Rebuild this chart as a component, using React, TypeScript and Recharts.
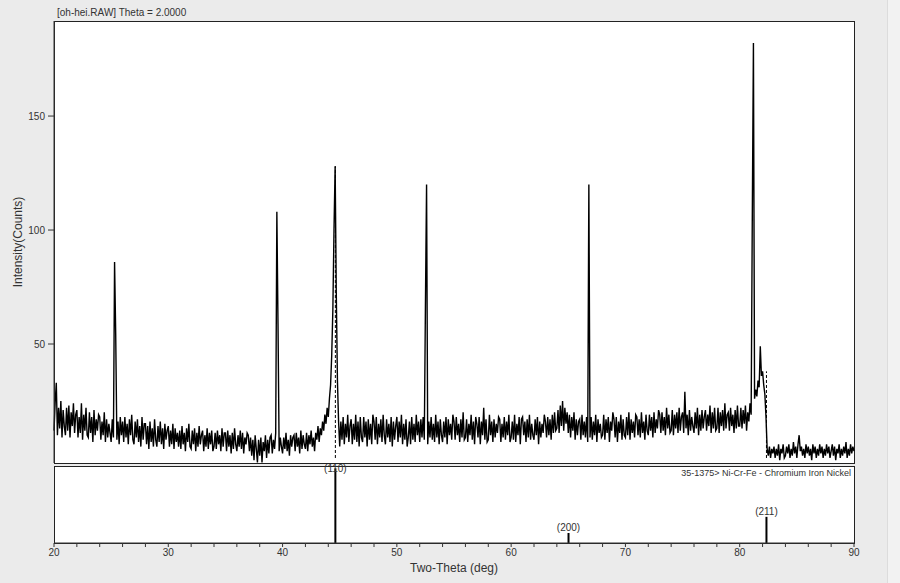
import { LineChart, Line, XAxis, YAxis, ReferenceLine } from 'recharts';

// scan: 20.0 .. 90.0 deg, 0.1 deg step
const scanStart = 20;
const scanStep = 0.1;

// one row per degree (x.0 .. x.9)
const counts = [
  12, 24, 33, 10, 22, 13, 25, 9, 21, 14,
  10, 22, 12, 23, 9, 20, 14, 24, 11, 19,
  21, 9, 18, 11, 24, 8, 19, 12, 22, 10,
  9, 20, 11, 18, 7, 21, 10, 17, 12, 19,
  18, 8, 16, 10, 20, 7, 17, 9, 15, 11,
  7, 17, 9, 86, 54, 8, 16, 6, 18, 10,
  16, 7, 18, 9, 15, 6, 17, 10, 19, 8,
  6, 16, 9, 17, 7, 14, 5, 18, 8, 15,
  15, 6, 14, 4, 16, 7, 13, 5, 17, 8,
  5, 14, 7, 16, 6, 13, 4, 15, 8, 12,
  14, 5, 12, 6, 15, 4, 13, 7, 11, 5,
  12, 4, 14, 6, 11, 3, 13, 7, 15, 5,
  4, 12, 6, 13, 3, 11, 5, 14, 6, 10,
  12, 3, 10, 5, 13, 4, 11, 6, 12, 3,
  5, 11, 4, 12, 6, 10, 3, 13, 5, 11,
  11, 3, 12, 5, 10, 2, 11, 4, 13, 6,
  3, 10, 5, 12, 4, 11, 2, 9, 6, 11,
  10, 3, 9, 1, 8, -1, 10, 4, -2, 8,
  1, 9, -2, 7, 3, 10, 0, 8, 2, 9,
  10, 2, 8, 4, 11, 108, 59, 3, 9, 5,
  2, 9, 4, 11, 3, 8, 1, 10, 5, 9,
  10, 3, 11, 5, 9, 2, 12, 4, 10, 6,
  4, 11, 3, 10, 6, 12, 5, 9, 3, 11,
  8, 14, 7, 13, 10, 16, 12, 19, 15, 22,
  18, 26, 32, 45, 65, 100, 128, 72, 34, 16,
  5, 16, 8, 18, 6, 15, 9, 19, 7, 14,
  17, 6, 15, 8, 19, 7, 16, 5, 18, 9,
  7, 18, 9, 16, 5, 17, 8, 15, 6, 19,
  16, 8, 18, 6, 15, 9, 17, 7, 19, 10,
  6, 17, 9, 15, 7, 18, 5, 16, 8, 14,
  18, 7, 16, 9, 19, 6, 15, 8, 17, 5,
  9, 16, 6, 18, 8, 15, 7, 19, 10, 16,
  7, 17, 9, 18, 8, 67, 120, 6, 16, 9,
  18, 8, 15, 7, 19, 9, 16, 6, 17, 10,
  7, 16, 9, 18, 6, 17, 10, 15, 8, 19,
  16, 8, 18, 10, 15, 7, 17, 9, 20, 8,
  9, 17, 7, 15, 10, 19, 8, 16, 6, 18,
  15, 9, 18, 6, 16, 10, 22, 8, 17, 7,
  8, 19, 10, 16, 7, 17, 9, 15, 11, 18,
  17, 7, 15, 9, 18, 8, 16, 10, 19, 7,
  9, 16, 8, 19, 7, 15, 10, 18, 6, 17,
  18, 10, 16, 7, 17, 9, 19, 8, 15, 10,
  8, 17, 10, 18, 6, 16, 9, 15, 11, 19,
  16, 9, 18, 10, 17, 8, 19, 11, 20, 12,
  13, 21, 11, 23, 14, 25, 12, 22, 15, 20,
  11, 19, 9, 18, 12, 20, 8, 17, 10, 16,
  17, 8, 19, 10, 16, 9, 18, 7, 120, 9,
  18, 8, 16, 10, 19, 7, 17, 11, 15, 9,
  10, 19, 8, 17, 11, 18, 7, 16, 12, 20,
  17, 9, 18, 7, 16, 11, 19, 8, 17, 10,
  9, 18, 10, 20, 8, 17, 11, 16, 9, 19,
  18, 10, 17, 9, 20, 11, 16, 8, 19, 12,
  10, 19, 12, 18, 9, 20, 11, 17, 13, 21,
  19, 11, 20, 12, 18, 10, 22, 13, 19, 11,
  12, 21, 10, 19, 13, 20, 11, 22, 12, 18,
  20, 11, 29, 13, 19, 10, 21, 12, 18, 14,
  11, 20, 13, 22, 10, 19, 12, 21, 13, 18,
  21, 12, 19, 14, 23, 11, 20, 13, 22, 12,
  13, 22, 11, 20, 14, 21, 12, 24, 13, 19,
  20, 12, 22, 14, 19, 11, 21, 13, 23, 14,
  14, 22, 13, 21, 15, 23, 12, 20, 16, 24,
  19, 105, 182, 26, 30, 27, 34, 31, 49, 36,
  38, 32, 28, 18, 4, 1, 5, 0, 4, 2,
  5, 0, 4, 1, 6, -1, 4, 2, 6, 0,
  1, 5, 2, 6, 0, 4, 1, 7, 2, 5,
  0, 6, 10, 3, 5, 1, 4, 0, 6, 2,
  5, 1, 4, -1, 6, 2, 5, 0, 4, 1,
  6, 2, 5, 0, 4, 1, 6, 2, 5, 0,
  3, 6, 1, 5, -1, 4, 2, 6, 0, 4,
  1, 5, 2, 7, 0, 4, 1, 6, 2, 5,
  3,
];

// PDF card 35-1375 sticks
const cardPos = [44.62, 65.02, 82.34];
const cardInt = [97, 13, 34];
const cardHkl = ['(110)', '(200)', '(211)'];

// dashed peak markers in the pattern
const markPos = [44.62, 82.34];
const markTop = [128, 38];

const yTicks = [0, 50, 100, 150];
const xTicks = [20, 22, 24, 26, 28, 30, 32, 34, 36, 38, 40, 42, 44, 46, 48, 50, 52, 54, 56, 58, 60, 62, 64, 66, 68, 70, 72, 74, 76, 78, 80, 82, 84, 86, 88, 90];

const data = counts.map((c, i) => ({ x: +(scanStart + i * scanStep).toFixed(1), c }));
const cards = cardPos.map((x, i) => ({ x, h: cardInt[i] }));

const font = '"Liberation Sans", Arial, sans-serif';
const tickStyle = { fontSize: 10, fill: '#333', fontFamily: font };

export default function App() {
  return (
    <div style={{ position: 'fixed', left: 0, top: 0, width: 900, height: 583, background: '#ebebeb', fontFamily: font, overflow: 'hidden' }}>
      <div style={{ position: 'absolute', left: 887, top: 0, width: 13, height: 583, background: '#f2f2f2', borderLeft: '1px solid #dcdcdc' }} />
      <div style={{ position: 'absolute', left: 54, top: 21, width: 801, height: 443, background: '#fff', border: '1px solid #222', boxSizing: 'border-box' }} />
      <div style={{ position: 'absolute', left: 54, top: 466, width: 801, height: 78, background: '#fff', border: '1px solid #222', boxSizing: 'border-box' }} />
      <div style={{ position: 'absolute', left: 57, top: 7, fontSize: 10, color: '#333' }}>[oh-hei.RAW] Theta = 2.0000</div>
      <div style={{ position: 'absolute', right: 49, top: 468, fontSize: 9, color: '#333' }}>35-1375&gt; Ni-Cr-Fe - Chromium Iron Nickel</div>

      <div style={{ position: 'absolute', left: 0, top: 0 }}>
        <LineChart width={900} height={463} data={data} margin={{ top: 21, right: 46, left: 0, bottom: 0 }}>
          <XAxis dataKey="x" type="number" domain={[20, 90]} hide />
          <YAxis
            type="number"
            domain={[-2.2, 191.7]}
            allowDataOverflow
            ticks={yTicks}
            width={54}
            tickSize={6}
            tickMargin={3}
            tick={tickStyle}
            stroke="#333"
            label={{ value: 'Intensity(Counts)', angle: -90, position: 'insideLeft', offset: 18, style: { textAnchor: 'middle', fontSize: 12, fill: '#333', fontFamily: font } }}
          />
          <Line type="linear" dataKey="c" stroke="#000" strokeWidth={1.4} dot={false} isAnimationActive={false} />
          {markPos.map((p, i) => (
            <ReferenceLine key={p} segment={[{ x: p, y: 0 }, { x: p, y: markTop[i] }]} stroke="#000" strokeWidth={1} strokeDasharray="3 2" />
          ))}
        </LineChart>
      </div>

      <div style={{ position: 'absolute', left: 0, top: 0 }}>
        <LineChart width={900} height={583} data={cards} margin={{ top: 466, right: 46, left: 54, bottom: 0 }}>
          <XAxis
            dataKey="x"
            type="number"
            domain={[20, 90]}
            ticks={xTicks}
            interval={0}
            height={40}
            tickSize={4}
            tickMargin={2}
            tick={tickStyle}
            stroke="#333"
            tickFormatter={(v) => (v % 10 === 0 ? String(v) : '')}
            label={{ value: 'Two-Theta (deg)', position: 'insideBottom', offset: 11, style: { fontSize: 12, fill: '#333', fontFamily: font } }}
          />
          <YAxis type="number" domain={[0, 100]} hide />
          <Line dataKey="h" stroke="none" dot={false} isAnimationActive={false} />
          {cardPos.map((p, i) => (
            <ReferenceLine
              key={p}
              segment={[{ x: p, y: 0 }, { x: p, y: cardInt[i] }]}
              stroke="#000"
              strokeWidth={2}
              label={{ value: cardHkl[i], position: i === 0 ? 'insideTop' : 'top', offset: i === 0 ? -3 : 2, style: { fontSize: 10, fill: '#333', fontFamily: font } }}
            />
          ))}
        </LineChart>
      </div>
    </div>
  );
}
